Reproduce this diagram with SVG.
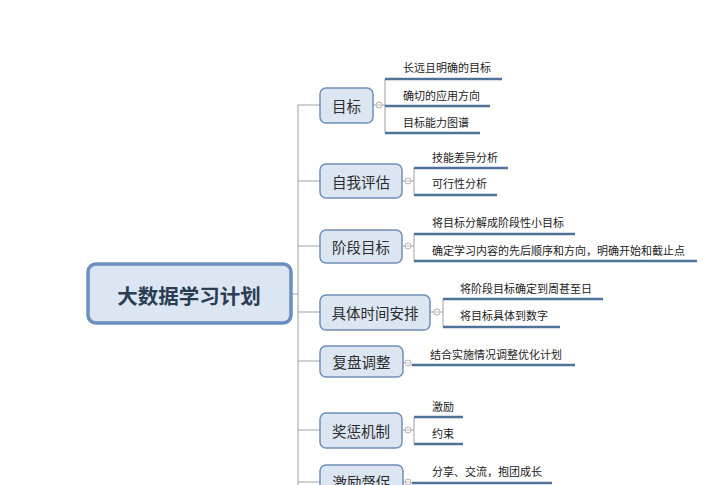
<svg xmlns="http://www.w3.org/2000/svg" width="727" height="485" viewBox="0 0 727 485">
<style>
.conn{stroke:#a0a0a0;stroke-width:1;fill:none}
.ul{stroke:#4f7298;stroke-width:2.5;fill:none}
.br rect{fill:#dce6f2;stroke:#6f8fb8;stroke-width:1.5}
.br text{font-family:"Noto Sans CJK SC","Noto Sans",sans-serif;font-size:14.5px;fill:#2b2b2b;text-anchor:middle;dominant-baseline:central}
.lf{font-family:"Noto Sans CJK SC","Noto Sans",sans-serif;font-size:11px;fill:#222;dominant-baseline:central}
.ic circle{fill:#fff;stroke:#b0b0b0;stroke-width:1}
.ic line{stroke:#b0b0b0;stroke-width:1}
</style>
<defs>
<g id="icon" class="ic"><circle cx="0" cy="0" r="3"/><line x1="-1.6" y1="0" x2="1.6" y2="0"/></g>
</defs>
<rect width="727" height="485" fill="#ffffff"/>
<g id="connectors">
<line class="conn" x1="291" y1="294" x2="298" y2="294"/>
<line class="conn" x1="298" y1="105" x2="298" y2="485"/>
<line class="conn" x1="298" y1="105" x2="320" y2="105"/>
<line class="conn" x1="298" y1="181" x2="320" y2="181"/>
<line class="conn" x1="298" y1="246" x2="320" y2="246"/>
<line class="conn" x1="298" y1="312" x2="320" y2="312"/>
<line class="conn" x1="298" y1="361" x2="320" y2="361"/>
<line class="conn" x1="298" y1="430" x2="320" y2="430"/>
<line class="conn" x1="298" y1="482" x2="320" y2="482"/>
<path class="conn" d="M373 105 H385 M385 79 V133"/>
<path class="conn" d="M402 181 H414 M414 168 V195"/>
<path class="conn" d="M402 246 H414 M414 234 V261"/>
<path class="conn" d="M430 312 H443 M443 299 V327"/>
<path class="conn" d="M402 430 H414 M414 417 V444"/>
<path class="conn" d="M403 362 L412 365"/>
<path class="conn" d="M403 482 L412 483"/>
<line class="ul" x1="385" y1="79" x2="502" y2="79"/>
<line class="ul" x1="385" y1="106" x2="490" y2="106"/>
<line class="ul" x1="385" y1="133" x2="480" y2="133"/>
<line class="ul" x1="414" y1="168" x2="508" y2="168"/>
<line class="ul" x1="414" y1="195" x2="497" y2="195"/>
<line class="ul" x1="414" y1="234" x2="575" y2="234"/>
<line class="ul" x1="414" y1="261" x2="697" y2="261"/>
<line class="ul" x1="443" y1="299" x2="603" y2="299"/>
<line class="ul" x1="443" y1="327" x2="560" y2="327"/>
<line class="ul" x1="412" y1="365" x2="575" y2="365"/>
<line class="ul" x1="414" y1="417" x2="463" y2="417"/>
<line class="ul" x1="414" y1="444" x2="463" y2="444"/>
<line class="ul" x1="412" y1="483" x2="552" y2="483"/>
</g>
<g id="root">
<rect x="88" y="264" width="203" height="59" rx="8" fill="#dce6f2" stroke="#6a8fbf" stroke-width="3.5"/>
<text x="189" y="295" font-family="&quot;Noto Sans CJK SC&quot;,&quot;Noto Sans&quot;,sans-serif" font-size="20.5" font-weight="bold" fill="#2a3d52" text-anchor="middle" dominant-baseline="central">大数据学习计划</text>
</g>
<g id="n1" class="br"><rect x="320" y="88" width="53" height="35" rx="6"/><text x="346.5" y="105.5">目标</text></g>
<use href="#icon" x="379" y="105"/>
<g id="n2" class="br"><rect x="320" y="164" width="82" height="34" rx="6"/><text x="361" y="181">自我评估</text></g>
<use href="#icon" x="408" y="181"/>
<g id="n3" class="br"><rect x="320" y="230" width="82" height="33" rx="6"/><text x="361" y="246.5">阶段目标</text></g>
<use href="#icon" x="408" y="246"/>
<g id="n4" class="br"><rect x="320" y="295" width="110" height="35" rx="6"/><text x="375" y="312.5">具体时间安排</text></g>
<use href="#icon" x="437" y="312"/>
<g id="n5" class="br"><rect x="320" y="346" width="83" height="31" rx="6"/><text x="361.5" y="361.5">复盘调整</text></g>
<use href="#icon" x="408" y="363"/>
<g id="n6" class="br"><rect x="320" y="413" width="82" height="35" rx="6"/><text x="361" y="430.5">奖惩机制</text></g>
<use href="#icon" x="408" y="430"/>
<g id="n7" class="br"><rect x="320" y="465" width="83" height="35" rx="6"/><text x="361.5" y="481">激励督促</text></g>
<use href="#icon" x="408" y="482"/>
<g id="leaves">
<text class="lf" x="403" y="67">长远且明确的目标</text>
<text class="lf" x="403" y="95">确切的应用方向</text>
<text class="lf" x="403" y="122">目标能力图谱</text>
<text class="lf" x="432" y="157">技能差异分析</text>
<text class="lf" x="432" y="183">可行性分析</text>
<text class="lf" x="432" y="222">将目标分解成阶段性小目标</text>
<text class="lf" x="432" y="250">确定学习内容的先后顺序和方向，明确开始和截止点</text>
<text class="lf" x="460" y="288">将阶段目标确定到周甚至日</text>
<text class="lf" x="460" y="315">将目标具体到数字</text>
<text class="lf" x="430" y="354">结合实施情况调整优化计划</text>
<text class="lf" x="432" y="406">激励</text>
<text class="lf" x="432" y="433">约束</text>
<text class="lf" x="432" y="471">分享、交流，抱团成长</text>
</g>
</svg>
